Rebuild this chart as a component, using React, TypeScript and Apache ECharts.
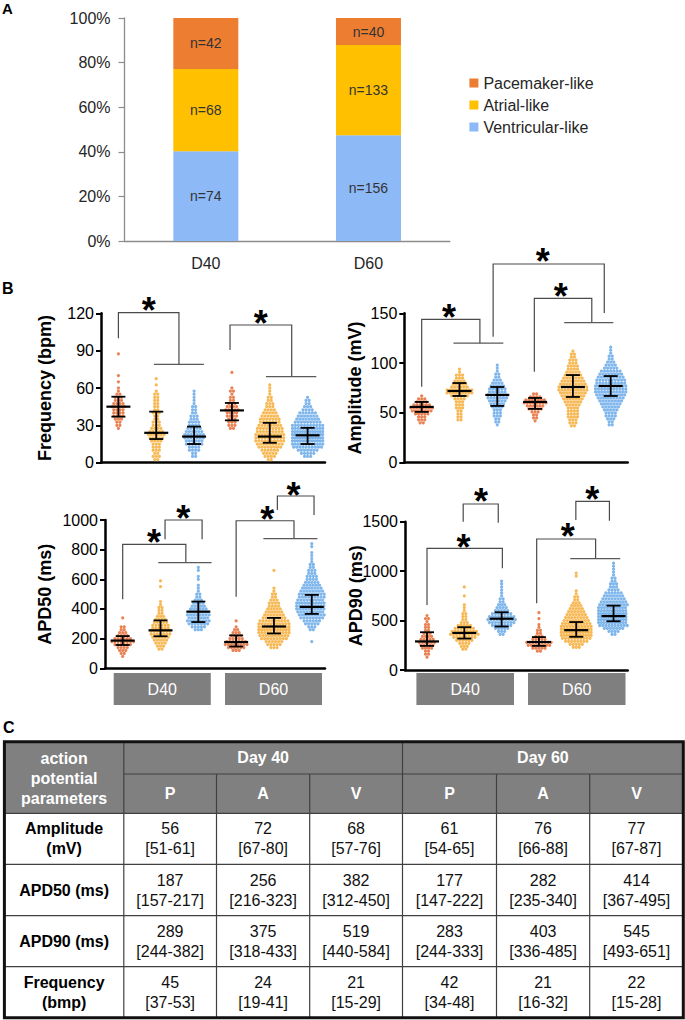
import React, { useEffect, useRef } from 'react';
import * as echarts from 'echarts';

const FONT = "'Liberation Sans', Arial, Helvetica, sans-serif";

// ---------------- Panel A data ----------------
const stageLabels = ['D40', 'D60'];
const legendNames = ['Pacemaker-like', 'Atrial-like', 'Ventricular-like'];
const pacemakerCounts = [42, 40];
const atrialCounts = [68, 133];
const ventricularCounts = [74, 156];
const percentTickStep = 20;

// ---------------- Panel B / C summary data (median [IQR]) ----------------
// group order: D40 P, D40 A, D40 V, D60 P, D60 A, D60 V
const groupNames = ['P', 'A', 'V'];
const dayNames = ['Day 40', 'Day 60'];
const boxLabels = ['D40', 'D60'];
const groupPos = [0, 1, 2, 3, 4, 5];

const ampMedian = [56, 72, 68, 61, 76, 77];
const ampQ1 = [51, 67, 57, 54, 66, 67];
const ampQ3 = [61, 80, 76, 65, 88, 87];
const apd50Median = [187, 256, 382, 177, 282, 414];
const apd50Q1 = [157, 216, 312, 147, 235, 367];
const apd50Q3 = [217, 323, 450, 222, 340, 495];
const apd90Median = [289, 375, 519, 283, 403, 545];
const apd90Q1 = [244, 318, 440, 244, 336, 493];
const apd90Q3 = [382, 433, 584, 333, 485, 651];
const freqMedian = [45, 24, 21, 42, 21, 22];
const freqQ1 = [37, 19, 15, 34, 16, 15];
const freqQ3 = [53, 41, 29, 48, 32, 28];

const tableRowLabels = ['Amplitude\n(mV)', 'APD50 (ms)', 'APD90 (ms)', 'Frequency\n(bmp)'];

// ---------------- Panel B individual cells, binned in rows (as plotted) ----------------
// Frequency: bin 2.5 bpm; first bin value per group; counts per row from bottom up
const freqBin = 2.5;
const freqStart = [27.5, 2.5, 5, 27.5, 2.5, 5];
const freqHist = [
  [1, 2, 2, 3, 4, 4, 4, 5, 4, 3, 3, 2, 1, 1, 0, 1, 0, 1, 0, 0, 0, 0, 0, 0, 1],
  [2, 3, 2, 3, 3, 3, 4, 5, 6, 5, 4, 3, 3, 2, 2, 3, 2, 2, 2, 2, 2, 2, 1, 0, 1, 0, 1],
  [2, 2, 4, 4, 6, 6, 7, 7, 6, 5, 4, 4, 3, 3, 2, 2, 2, 1, 1, 1, 1, 1],
  [2, 3, 3, 3, 4, 4, 5, 4, 3, 2, 2, 1, 2, 1, 0, 0, 0, 0, 1],
  [2, 4, 5, 6, 8, 9, 10, 10, 10, 9, 9, 8, 7, 7, 6, 5, 4, 3, 3, 2, 2, 1, 1, 1, 1],
  [3, 5, 7, 10, 12, 13, 14, 14, 13, 12, 11, 9, 8, 7, 6, 4, 3, 2, 2, 1],
];
// Amplitude: bin 3 mV
const ampBin = 3;
const ampStart = [40, 43, 38, 42, 37, 38];
const ampHist = [
  [2, 3, 3, 5, 7, 8, 6, 4, 3, 1],
  [2, 2, 2, 2, 3, 3, 3, 4, 6, 9, 9, 6, 5, 4, 3, 3, 1, 1],
  [1, 2, 2, 3, 3, 3, 4, 5, 6, 7, 7, 6, 6, 5, 4, 3, 2, 2, 1, 1, 1],
  [1, 2, 2, 3, 5, 6, 8, 7, 4, 2],
  [2, 3, 3, 4, 4, 4, 4, 5, 6, 7, 8, 9, 10, 10, 9, 8, 7, 6, 5, 4, 4, 3, 3, 2, 2, 1],
  [2, 2, 3, 4, 4, 5, 6, 7, 8, 9, 10, 11, 11, 11, 10, 10, 9, 8, 7, 5, 4, 3, 2, 2, 1, 1, 1],
];
// APD50: bin 20 ms
const apd50Bin = 20;
const apd50Start = [80, 130, 260, 120, 140, 180];
const apd50Hist = [
  [1, 2, 3, 4, 6, 8, 6, 4, 3, 2, 2, 0, 0, 1],
  [2, 3, 4, 5, 6, 7, 7, 6, 6, 5, 4, 3, 2, 2, 2, 1, 1, 0, 0, 0, 0, 1, 0, 1],
  [3, 5, 7, 8, 7, 8, 7, 6, 5, 4, 3, 2, 2, 1, 1, 1, 0, 1, 1, 0, 1, 1],
  [3, 6, 8, 7, 5, 4, 3, 2, 1, 0, 1],
  [3, 5, 6, 9, 10, 11, 12, 12, 11, 10, 8, 7, 6, 5, 4, 4, 3, 2, 2, 1, 1, 0, 0, 0, 0, 0, 1],
  [1, 0, 0, 0, 2, 3, 5, 6, 8, 9, 10, 11, 11, 12, 10, 9, 9, 8, 7, 6, 5, 4, 4, 3, 3, 2, 2, 1, 1, 1, 1, 0, 1, 1],
];
// APD90: bin 30 ms
const apd90Bin = 30;
const apd90Start = [130, 210, 360, 190, 230, 360];
const apd90Hist = [
  [1, 2, 2, 4, 5, 6, 5, 4, 3, 2, 2, 2, 1, 2, 1],
  [2, 3, 4, 6, 8, 10, 9, 7, 5, 3, 2, 2, 2, 1, 1, 1, 0, 0, 1, 0, 0, 1],
  [2, 3, 5, 7, 9, 10, 9, 7, 5, 4, 3, 2, 2, 1, 1, 1, 1, 1, 1],
  [2, 5, 8, 9, 5, 3, 2, 2, 1, 1, 0, 1, 0, 1],
  [3, 5, 8, 10, 12, 12, 12, 11, 10, 9, 8, 7, 6, 5, 4, 3, 2, 2, 1, 1, 0, 0, 0, 0, 1, 1],
  [2, 4, 7, 10, 12, 13, 13, 13, 12, 11, 10, 9, 8, 7, 6, 4, 3, 3, 2, 2, 1, 1, 1, 1, 1],
];

// significance brackets: [x1, y1, x2, y2, top, barFrom, barTo, starX, starY]
const freqBrackets = [
  [0, 100, 1.6, 79, 120.5, 0.94, 2.26, 0.8, 128.5],
  [2.95, 90.5, 4.58, 69.1, 110.6, 3.9, 5.23, 3.76, 118],
];
const ampBrackets = [
  [0, 76.3, 1.54, 120, 144, 0.84, 2.16, 0.72, 154],
  [1.89, 126.5, 4.83, 150.3, 199.5, null, null, 3.2, 209.6],
  [2.98, 91.4, 4.5, 140.6, 164.9, 3.77, 5.07, 3.68, 175],
];
const apd50Brackets = [
  [0, 465, 1.67, 712, 836, 0.94, 2.35, 0.83, 899],
  [1.12, 870, 2.1, 870, 1000, null, null, 1.6, 1067],
  [3.0, 483, 4.53, 874, 995, 3.72, 5.15, 3.82, 1055],
  [4.09, 1067, 5.06, 1034, 1162, null, null, 4.52, 1222],
];
const apd90Brackets = [
  [0, 657, 2.02, 1029, 1231, null, null, 0.98, 1315],
  [0.97, 1500, 1.91, 1490, 1679, null, null, 1.45, 1787],
  [2.94, 674, 4.52, 1126, 1325, 3.84, 5.18, 3.77, 1433],
  [3.99, 1517, 4.89, 1510, 1706, null, null, 4.43, 1803],
];

const barColors = ['#ED7D31', '#FFC000', '#8DB9F7'];
const dotColors = ['#E3642B', '#F5A82C', '#5FA4E6'];

function swarmPoints(x0: number, start: number, bin: number, counts: number[]) {
  const pts: number[][] = [];
  counts.forEach((c, k) => {
    const y = start + k * bin;
    const dx = c > 1 ? Math.min(0.082, 0.8 / (c - 1)) : 0;
    for (let j = 0; j < c; j++) pts.push([x0 + (j - (c - 1) / 2) * dx, y]);
  });
  return pts;
}

const plots = [
  {
    name: 'Frequency (bpm)', max: 120, interval: 30, bin: freqBin, starts: freqStart, hist: freqHist,
    med: freqMedian, q1: freqQ1, q3: freqQ3, brackets: freqBrackets,
    grid: { left: 101, top: 313.3, width: 224, height: 149.4 }, xMin: -0.46, xMax: 5.46, nameGap: 47,
  },
  {
    name: 'Amplitude (mV)', max: 150, interval: 50, bin: ampBin, starts: ampStart, hist: ampHist,
    med: ampMedian, q1: ampQ1, q3: ampQ3, brackets: ampBrackets,
    grid: { left: 404.3, top: 313.3, width: 223.4, height: 149.4 }, xMin: -0.46, xMax: 5.45, nameGap: 40,
  },
  {
    name: 'APD50 (ms)', max: 1000, interval: 200, bin: apd50Bin, starts: apd50Start, hist: apd50Hist,
    med: apd50Median, q1: apd50Q1, q3: apd50Q3, brackets: apd50Brackets,
    grid: { left: 105, top: 520, width: 220, height: 148.3 }, xMin: -0.468, xMax: 5.35, nameGap: 51,
  },
  {
    name: 'APD90 (ms)', max: 1500, interval: 500, bin: apd90Bin, starts: apd90Start, hist: apd90Hist,
    med: apd90Median, q1: apd90Q1, q3: apd90Q3, brackets: apd90Brackets,
    grid: { left: 405, top: 521.7, width: 222.7, height: 148.3 }, xMin: -0.59, xMax: 5.38, nameGap: 40,
  },
];

const STAR_SIZE = 36;
const STAR_DY = 8;

function tableGraphics() {
  const colX = [4.4, 123.8, 216.5, 309.7, 402.5, 496.5, 589.7, 683.3];
  const rowY = [741.7, 774, 813.3, 864.3, 915.7, 966.7, 1017.7];
  const els: any[] = [];
  const line = (x1: number, y1: number, x2: number, y2: number, color = '#404040', w = 1.2) =>
    els.push({ type: 'line', z: 20, shape: { x1, y1, x2, y2 }, style: { stroke: color, lineWidth: w } });
  const text = (x: number, y: number, t: string, bold: boolean, color: string) =>
    els.push({
      type: 'text', z: 21, x, y,
      style: {
        text: t, fill: color, fontSize: 16, fontWeight: bold ? 'bold' : 'normal', fontFamily: FONT,
        align: 'center', verticalAlign: 'middle', lineHeight: 20,
      },
    });
  const W = colX[7] - colX[0];
  els.push({ type: 'rect', z: 19, shape: { x: colX[0], y: rowY[0], width: W, height: rowY[2] - rowY[0] }, style: { fill: '#808080' } });
  els.push({ type: 'rect', z: 19, shape: { x: colX[0], y: rowY[2], width: W, height: rowY[6] - rowY[2] }, style: { fill: '#ffffff' } });
  line(colX[1], rowY[0], colX[1], rowY[6]);
  line(colX[4], rowY[0], colX[4], rowY[6]);
  [2, 3, 5, 6].forEach((c) => line(colX[c], rowY[1], colX[c], rowY[6]));
  line(colX[1], rowY[1], colX[7], rowY[1]);
  [2, 3, 4, 5].forEach((r) => line(colX[0], rowY[r], colX[7], rowY[r]));
  els.push({ type: 'rect', z: 22, shape: { x: colX[0], y: rowY[0], width: W, height: rowY[6] - rowY[0] }, style: { fill: 'none', stroke: '#111', lineWidth: 3 } });
  const cx = (c: number) => (colX[c] + colX[c + 1]) / 2;
  const cy = (r: number) => (rowY[r] + rowY[r + 1]) / 2;
  text(cx(0), (rowY[0] + rowY[2]) / 2 + 1, 'action\npotential\nparameters', true, '#fff');
  dayNames.forEach((d, i) => text((colX[1 + i * 3] + colX[4 + i * 3]) / 2, cy(0), d, true, '#fff'));
  for (let i = 0; i < 6; i++) text(cx(i + 1), cy(1), groupNames[i % 3], true, '#fff');
  const meds = [ampMedian, apd50Median, apd90Median, freqMedian];
  const q1s = [ampQ1, apd50Q1, apd90Q1, freqQ1];
  const q3s = [ampQ3, apd50Q3, apd90Q3, freqQ3];
  tableRowLabels.forEach((lab, r) => {
    text(cx(0), cy(r + 2), lab, true, '#000');
    for (let i = 0; i < 6; i++) {
      text(cx(i + 1), cy(r + 2), `${meds[r][i]}\n[${q1s[r][i]}-${q3s[r][i]}]`, false, '#111');
    }
  });
  return els;
}

function buildOption() {
  const totals = pacemakerCounts.map((v, i) => v + atrialCounts[i] + ventricularCounts[i]);
  const pct = (arr: number[]) => arr.map((v, i) => (v / totals[i]) * 100);
  const grids: any[] = [{ left: 124.5, top: 18, width: 325.3, height: 223, outerBoundsMode: 'none' }];
  const xAxes: any[] = [{
    type: 'category', gridIndex: 0, data: stageLabels,
    axisLine: { lineStyle: { color: '#8c8c8c', width: 1.3 } }, axisTick: { show: false },
    axisLabel: { fontSize: 16, color: '#262626', margin: 14, fontFamily: FONT },
  }];
  const yAxes: any[] = [{
    type: 'value', gridIndex: 0, min: 0, max: 100, interval: percentTickStep,
    axisLine: { show: true, lineStyle: { color: '#8c8c8c', width: 1.3 } },
    axisTick: { show: true, length: 6, lineStyle: { color: '#8c8c8c', width: 1.2 } },
    splitLine: { show: false },
    axisLabel: { formatter: '{value}%', fontSize: 16, color: '#262626', margin: 14, fontFamily: FONT },
  }];
  const barSeries = [
    { name: legendNames[2], counts: ventricularCounts, color: barColors[2] },
    { name: legendNames[1], counts: atrialCounts, color: barColors[1] },
    { name: legendNames[0], counts: pacemakerCounts, color: barColors[0] },
  ].map((s) => ({
    name: s.name, type: 'bar', stack: 'cells', xAxisIndex: 0, yAxisIndex: 0, barWidth: 65,
    data: pct(s.counts), itemStyle: { color: s.color },
    label: {
      show: true, position: 'inside', fontSize: 14, color: '#333', fontFamily: FONT,
      formatter: (p: any) => 'n=' + s.counts[p.dataIndex],
    },
    silent: true,
  }));
  const series: any[] = [...barSeries];

  plots.forEach((pl, k) => {
    const gi = k + 1;
    grids.push({ ...pl.grid, outerBoundsMode: 'none' });
    xAxes.push({
      type: 'value', gridIndex: gi, min: pl.xMin, max: pl.xMax,
      axisLine: { show: true, onZero: false, lineStyle: { color: '#000', width: 2.5 } },
      axisTick: { show: false }, axisLabel: { show: false }, splitLine: { show: false },
    });
    yAxes.push({
      type: 'value', gridIndex: gi, min: 0, max: pl.max, interval: pl.interval,
      name: pl.name, nameLocation: 'middle', nameGap: pl.nameGap, nameMoveOverlap: false,
      nameTextStyle: { fontSize: 18, fontWeight: 'bold', color: '#000', fontFamily: FONT },
      axisLine: { show: true, onZero: false, lineStyle: { color: '#000', width: 2.5 } },
      axisTick: { show: true, length: 5, lineStyle: { color: '#000', width: 2 } },
      splitLine: { show: false },
      axisLabel: { fontSize: 16, color: '#000', margin: 7, fontFamily: FONT, formatter: (v: number) => String(v) },
    });
    for (let g = 0; g < 6; g++) {
      series.push({
        type: 'scatter', xAxisIndex: gi, yAxisIndex: gi, symbolSize: 3.2, silent: true, z: 2,
        itemStyle: { color: dotColors[g % 3] },
        data: swarmPoints(groupPos[g], pl.starts[g], pl.bin, pl.hist[g]),
      });
    }
    series.push({
      type: 'custom', xAxisIndex: gi, yAxisIndex: gi, z: 5, silent: true, clip: false,
      data: groupPos.map((x, i) => [x, pl.med[i], pl.q1[i], pl.q3[i]]),
      renderItem: (params: any, api: any) => {
        const x = api.value(0);
        const pm = api.coord([x, api.value(1)]);
        const p1 = api.coord([x, api.value(2)]);
        const p3 = api.coord([x, api.value(3)]);
        const st = { stroke: '#000', lineWidth: 1.8 };
        return {
          type: 'group',
          children: [
            { type: 'line', shape: { x1: p1[0], y1: p1[1], x2: p3[0], y2: p3[1] }, style: st },
            { type: 'line', shape: { x1: p1[0] - 7, y1: p1[1], x2: p1[0] + 7, y2: p1[1] }, style: st },
            { type: 'line', shape: { x1: p3[0] - 7, y1: p3[1], x2: p3[0] + 7, y2: p3[1] }, style: st },
            { type: 'line', shape: { x1: pm[0] - 12, y1: pm[1], x2: pm[0] + 12, y2: pm[1] }, style: { stroke: '#000', lineWidth: 2.2 } },
          ],
        };
      },
    });
    const br = pl.brackets;
    series.push({
      type: 'custom', xAxisIndex: gi, yAxisIndex: gi, z: 6, silent: true, clip: false,
      data: br.map((b) => [b[0], b[4]]),
      renderItem: (params: any, api: any) => {
        const b = br[params.dataIndex] as any[];
        const c = (x: number, y: number) => api.coord([x, y]);
        const a1 = c(b[0], b[1]), a2 = c(b[0], b[4]), a3 = c(b[2], b[4]), a4 = c(b[2], b[3]);
        const children: any[] = [
          { type: 'polyline', shape: { points: [a1, a2, a3, a4] }, style: { stroke: '#4a4a4a', lineWidth: 1.2, fill: 'none' } },
        ];
        if (b[5] != null) {
          const q1 = c(b[5], b[3]), q2 = c(b[6], b[3]);
          children.push({ type: 'line', shape: { x1: q1[0], y1: q1[1], x2: q2[0], y2: q2[1] }, style: { stroke: '#5a5a5a', lineWidth: 1.2 } });
        }
        const s = c(b[7], b[8]);
        children.push({
          type: 'text', x: s[0], y: s[1] + STAR_DY,
          style: { text: '*', fontSize: STAR_SIZE, fontWeight: 'bold', fontFamily: FONT, fill: '#000', align: 'center', verticalAlign: 'middle' },
        });
        return { type: 'group', children };
      },
    });
  });

  const graphic: any[] = [
    { type: 'text', x: 2, y: 8.5, style: { text: 'A', fontSize: 15, fontWeight: 'bold', fontFamily: FONT, fill: '#000', verticalAlign: 'middle' } },
    { type: 'text', x: 2, y: 288, style: { text: 'B', fontSize: 16, fontWeight: 'bold', fontFamily: FONT, fill: '#000', verticalAlign: 'middle' } },
    { type: 'text', x: 3, y: 727.5, style: { text: 'C', fontSize: 16, fontWeight: 'bold', fontFamily: FONT, fill: '#000', verticalAlign: 'middle' } },
  ];
  const boxes = [
    [113.7, 210.8], [225, 322], [416.4, 514], [528, 625.5],
  ];
  boxes.forEach((bx, i) => {
    graphic.push({ type: 'rect', shape: { x: bx[0], y: 673, width: bx[1] - bx[0], height: 32 }, style: { fill: '#7f7f7f' } });
    graphic.push({
      type: 'text', x: (bx[0] + bx[1]) / 2, y: 689.5,
      style: { text: boxLabels[i % 2], fontSize: 16, fontFamily: FONT, fill: '#fff', align: 'center', verticalAlign: 'middle' },
    });
  });
  graphic.push(...tableGraphics());

  return {
    animation: false,
    backgroundColor: '#ffffff',
    textStyle: { fontFamily: FONT },
    legend: {
      data: legendNames, orient: 'vertical', left: 469.4, top: 75, padding: 0,
      itemWidth: 9, itemHeight: 9, itemGap: 6, icon: 'rect', selectedMode: false,
      textStyle: { fontSize: 16, color: '#262626', lineHeight: 16, fontFamily: FONT },
    },
    grid: grids,
    xAxis: xAxes,
    yAxis: yAxes,
    series,
    graphic,
  };
}

export default function App() {
  const ref = useRef<HTMLDivElement>(null);
  useEffect(() => {
    document.body.style.margin = '0';
    const chart = echarts.init(ref.current as HTMLDivElement, null, { renderer: 'svg' });
    chart.setOption(buildOption() as any);
    return () => chart.dispose();
  }, []);
  return <div ref={ref} style={{ width: 685, height: 1020 }} />;
}
